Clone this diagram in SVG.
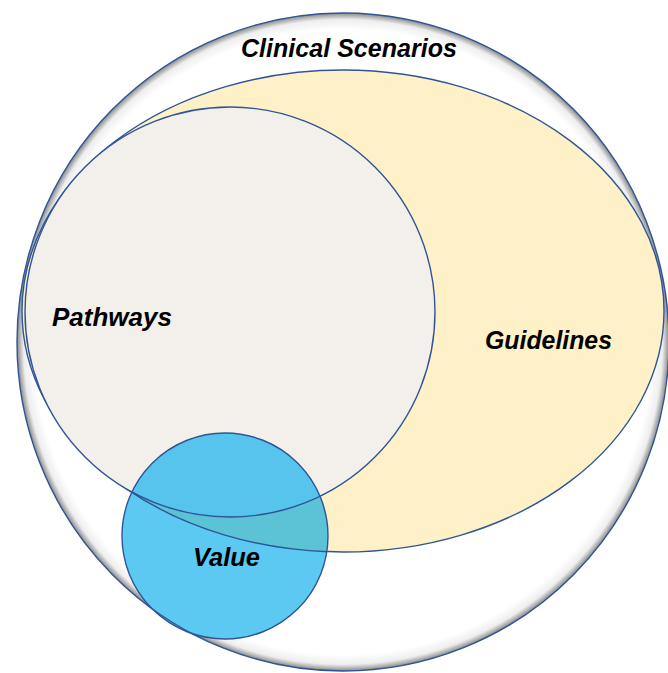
<svg xmlns="http://www.w3.org/2000/svg" width="668" height="673" viewBox="0 0 668 673">
  <defs>
    <radialGradient id="outerGrad" cx="0.5" cy="0.5" r="0.5">
      <stop offset="0" stop-color="#ffffff"/>
      <stop offset="0.95" stop-color="#ffffff"/>
      <stop offset="0.98" stop-color="#eeeeee"/>
      <stop offset="1" stop-color="#8a8a8a"/>
    </radialGradient>
    <clipPath id="valueClip">
      <circle cx="225" cy="536" r="103"/>
    </clipPath>
    <style>
      .edge { stroke: #2F5597; stroke-width: 1.4; }
      .lbl { font-family: "Liberation Sans", Arial, sans-serif; font-weight: bold; font-style: italic; font-size: 26px; fill: #000000; }
    </style>
  </defs>
  <rect width="668" height="673" fill="#ffffff"/>

  <g id="clinical-scenarios">
    <ellipse cx="343" cy="342" rx="326" ry="329" fill="url(#outerGrad)" class="edge" stroke-width="2"/>
    <text class="lbl" x="241" y="57" textLength="216" lengthAdjust="spacingAndGlyphs">Clinical Scenarios</text>
  </g>

  <g id="guidelines">
    <ellipse cx="343" cy="311" rx="321" ry="241" fill="#FEF1C8" class="edge"/>
    <text class="lbl" x="485" y="349" textLength="127" lengthAdjust="spacingAndGlyphs">Guidelines</text>
  </g>

  <g id="pathways">
    <circle cx="230" cy="312" r="205" fill="#F3EFEA" class="edge"/>
    <text class="lbl" x="52" y="326" textLength="120" lengthAdjust="spacingAndGlyphs">Pathways</text>
  </g>

  <g id="value">
    <circle cx="225" cy="536" r="103" fill="#5BC9F2"/>
    <g clip-path="url(#valueClip)">
      <ellipse cx="343" cy="311" rx="321" ry="241" fill="#5CC2D6" class="edge"/>
      <circle cx="230" cy="312" r="205" fill="#56C4EC" class="edge"/>
      <ellipse cx="343" cy="342" rx="326" ry="329" fill="none" class="edge" stroke-width="2"/>
    </g>
    <circle cx="225" cy="536" r="103" fill="none" class="edge"/>
    <text class="lbl" x="193" y="566" textLength="67" lengthAdjust="spacingAndGlyphs">Value</text>
  </g>

  <g id="connectors"/>
</svg>
